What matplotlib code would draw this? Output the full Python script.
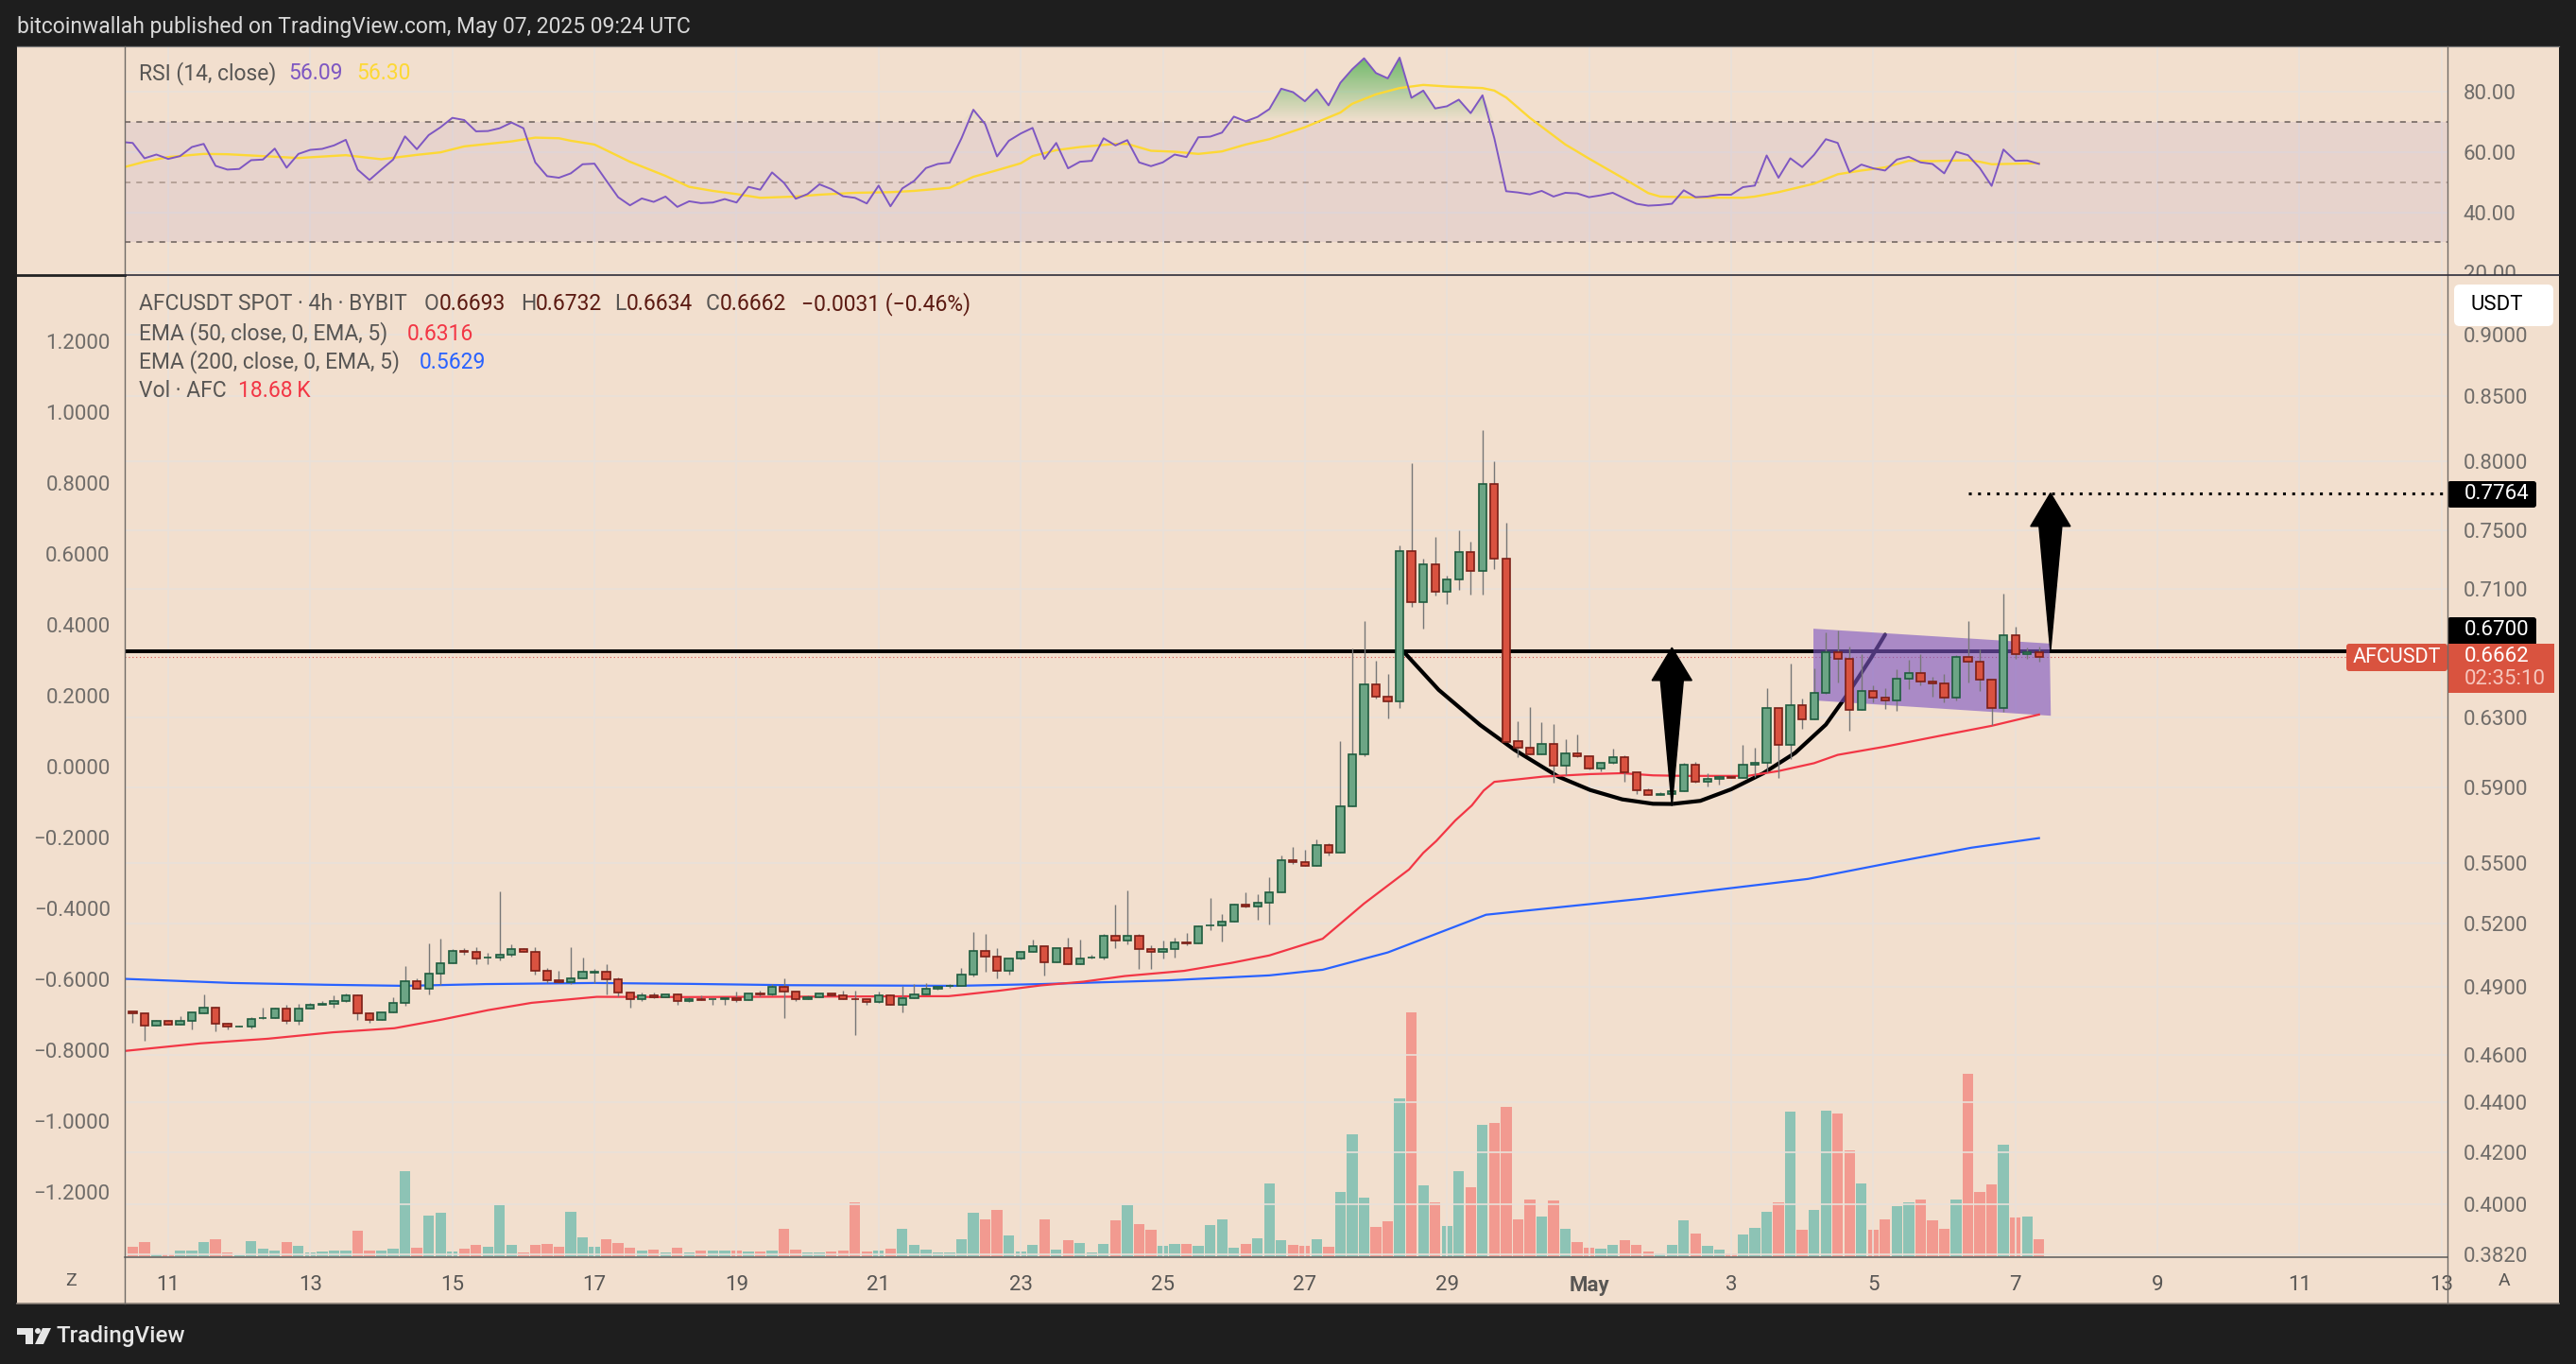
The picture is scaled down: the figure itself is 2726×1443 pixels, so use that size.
import numpy as np
import pandas as pd
import matplotlib
matplotlib.use('Agg')
import matplotlib.pyplot as plt
import matplotlib.dates as mdates
from matplotlib.colors import LinearSegmentedColormap
from matplotlib.patches import Polygon, Rectangle, FancyBboxPatch
from matplotlib.ticker import FixedLocator, FixedFormatter

plt.rcParams['font.family'] = ['Roboto', 'DejaVu Sans']

W, H = 2726, 1443

# 4h candles, AFCUSDT
opens = [
    .4789,.4780,.4726,.4747,.4730,.4747,.4783,.4805,.4735,.4721,
    .4722,.4758,.4760,.4801,.4747,.4801,.4821,.4823,.4835,.4861,
    .4780,.4751,.4785,.4827,.4926,.4891,.4960,.5009,.5067,.5062,
    .5034,.5036,.5049,.5076,.5062,.4974,.4930,.4921,.4938,.4967,
    .4969,.4934,.4874,.4844,.4861,.4853,.4865,.4835,.4844,.4844,
    .4844,.4848,.4840,.4870,.4865,.4900,.4878,.4844,.4853,.4870,
    .4861,.4845,.4844,.4830,.4861,.4818,.4848,.4865,.4891,.4904,
    .4904,.4956,.5067,.5040,.4974,.5031,.5062,.5089,.5014,.5080,
    .5005,.5034,.5036,.5139,.5116,.5139,.5076,.5062,.5076,.5107,
    .5102,.5187,.5189,.5207,.5291,.5281,.5300,.5351,.5514,.5504,
    .5483,.5592,.5553,.5798,.6086,.6495,.6422,.6392,.7354,.7013,
    .7265,.7081,.7163,.7348,.7220,.7829,.7303,.6161,.6123,.6086,
    .6144,.6022,.6091,.6075,.6006,.6038,.6070,.5984,.5885,.5859,
    .5864,.5880,.6027,.5932,.5948,.5960,.5953,.6027,.6037,.6354,
    .6139,.6371,.6287,.6444,.6693,.6652,.6343,.6456,.6416,.6399,
    .6530,.6565,.6513,.6502,.6416,.6664,.6634,.6525,.6354,.6800,
    .6682,.6693]
closes = [
    .4779,.4726,.4747,.4730,.4747,.4785,.4805,.4735,.4722,.4723,
    .4755,.4760,.4801,.4747,.4801,.4818,.4823,.4835,.4861,.4780,
    .4751,.4785,.4827,.4926,.4891,.4960,.5009,.5067,.5062,.5031,
    .5036,.5049,.5076,.5062,.4974,.4930,.4921,.4938,.4969,.4969,
    .4934,.4874,.4844,.4861,.4853,.4865,.4835,.4844,.4840,.4845,
    .4848,.4840,.4870,.4865,.4900,.4878,.4844,.4853,.4870,.4861,
    .4844,.4844,.4831,.4861,.4818,.4848,.4865,.4891,.4900,.4906,
    .4956,.5067,.5040,.4974,.5031,.5062,.5089,.5014,.5080,.5005,
    .5031,.5036,.5139,.5116,.5139,.5076,.5062,.5076,.5107,.5101,
    .5185,.5189,.5207,.5291,.5281,.5300,.5351,.5514,.5504,.5483,
    .5592,.5553,.5798,.6086,.6495,.6422,.6392,.7354,.7013,.7265,
    .7081,.7163,.7348,.7220,.7829,.7303,.6159,.6123,.6086,.6144,
    .6022,.6091,.6075,.6006,.6038,.6070,.5984,.5885,.5859,.5864,
    .5880,.6027,.5932,.5948,.5958,.5956,.6027,.6037,.6354,.6139,
    .6371,.6287,.6444,.6693,.6652,.6343,.6456,.6416,.6399,.6530,
    .6565,.6513,.6502,.6416,.6664,.6634,.6525,.6354,.6800,.6682,
    .6693,.6662]
highs = [
    .4789,.4780,.4753,.4753,.4769,.4785,.4867,.4811,.4740,.4728,
    .4765,.4808,.4808,.4820,.4824,.4828,.4837,.4863,.4871,.4865,
    .4786,.4785,.4854,.4997,.4940,.5104,.5127,.5077,.5082,.5086,
    .5059,.5358,.5100,.5082,.5086,.4988,.4975,.5086,.5037,.4984,
    .5006,.4943,.4874,.4876,.4876,.4865,.4870,.4851,.4863,.4845,
    .4848,.4877,.4870,.4884,.4913,.4940,.4878,.4861,.4870,.4870,
    .4884,.4884,.4844,.4880,.4867,.4904,.4914,.4918,.4900,.4913,
    .4988,.5159,.5150,.5082,.5031,.5062,.5122,.5089,.5080,.5131,
    .5122,.5049,.5150,.5292,.5362,.5150,.5095,.5118,.5131,.5154,
    .5191,.5325,.5245,.5297,.5353,.5344,.5429,.5540,.5584,.5570,
    .5623,.5604,.6163,.6719,.6893,.6643,.6561,.7395,.7985,.7303,
    .7455,.7190,.7501,.7422,.8235,.7999,.7553,.6279,.6362,.6273,
    .6262,.6174,.6201,.6075,.6038,.6120,.6080,.5984,.5896,.5876,
    .5890,.6038,.6045,.5981,.5968,.5968,.6139,.6125,.6473,.6354,
    .6623,.6410,.6594,.6818,.6830,.6729,.6682,.6488,.6473,.6588,
    .6646,.6682,.6542,.6559,.6675,.6894,.6711,.6525,.7068,.6854,
    .6723,.6732]
lows = [
    .4741,.4662,.4726,.4730,.4730,.4712,.4783,.4700,.4712,.4721,
    .4716,.4754,.4760,.4733,.4729,.4801,.4821,.4808,.4830,.4750,
    .4741,.4751,.4785,.4813,.4891,.4868,.4908,.5009,.5048,.5003,
    .5003,.5021,.5039,.5062,.4959,.4918,.4918,.4913,.4938,.4916,
    .4864,.4858,.4807,.4838,.4848,.4853,.4817,.4830,.4840,.4821,
    .4821,.4830,.4840,.4858,.4861,.4762,.4834,.4844,.4853,.4858,
    .4844,.4687,.4817,.4827,.4818,.4787,.4848,.4865,.4887,.4894,
    .4904,.4950,.4972,.4941,.4959,.5027,.5062,.4954,.5014,.5005,
    .5005,.5031,.5025,.5079,.5097,.4985,.4981,.5030,.5034,.5094,
    .5102,.5165,.5110,.5207,.5277,.5215,.5192,.5351,.5493,.5483,
    .5483,.5537,.5553,.5798,.6077,.6413,.6291,.6357,.6981,.6845,
    .7054,.6999,.7095,.7061,.7065,.7231,.6159,.6071,.6086,.6086,
    .5930,.5970,.6068,.5999,.5993,.6031,.5935,.5863,.5858,.5858,
    .5801,.5880,.5927,.5909,.5915,.5953,.5953,.5958,.5984,.5956,
    .6058,.6230,.6287,.6437,.6505,.6224,.6343,.6386,.6347,.6336,
    .6467,.6488,.6420,.6386,.6397,.6505,.6454,.6253,.6330,.6652,
    .6652,.6634]
# volume in thousands of AFC
volumes = [
    10.4,15.6,2.1,2.1,6.2,6.2,15.6,18.7,4.2,1.0,
    16.6,8.3,6.2,15.6,11.4,4.2,5.2,6.2,6.2,28.1,
    6.2,6.2,8.3,93.6,9.4,44.7,47.8,5.2,8.3,12.5,
    10.4,56.2,12.5,4.2,12.5,13.5,10.4,48.9,20.8,10.4,
    18.7,14.6,9.4,6.2,7.3,4.2,9.4,4.2,6.2,6.2,
    6.2,6.2,5.2,5.2,6.2,30.2,7.3,4.2,4.2,5.2,
    6.2,59.3,5.2,6.2,8.3,30.2,12.5,7.3,4.2,4.2,
    18.7,47.8,40.6,51.0,22.9,5.2,12.5,40.6,7.3,17.7,
    14.6,4.2,13.5,39.5,56.2,35.4,29.1,11.4,13.5,13.5,
    11.4,34.3,40.6,9.4,13.5,19.8,80.1,17.7,12.5,11.4,
    18.7,10.4,70.7,134.2,64.5,32.2,38.5,173.7,268.3,78.0,
    59.3,33.3,93.6,75.9,144.6,146.6,164.3,40.6,62.4,43.7,
    61.4,30.2,15.6,9.4,8.3,12.5,17.7,12.5,5.2,3.1,
    12.5,39.5,25.0,11.4,7.3,3.1,23.9,31.2,48.9,59.3,
    159.1,29.1,51.0,160.2,157.0,116.5,80.1,29.1,40.6,55.1,
    59.3,62.4,39.5,30.2,62.4,200.7,70.7,79.0,122.7,42.6,
    43.7,18.68]
# RSI per candle, rsi_before is the candle cut off by the left edge
rsi_before = 63.4
rsi = [
    63.05,57.94,59.19,57.73,58.67,61.69,62.74,55.43,54.18,54.39,
    57.31,57.52,61.17,54.81,59.40,60.75,61.07,62.22,64.09,54.18,
    50.74,54.18,57.52,65.24,60.96,65.66,68.27,71.40,70.67,66.91,
    67.01,67.95,69.83,67.95,56.58,52.00,51.47,52.93,55.96,56.16,
    50.53,45.00,42.29,44.58,43.44,45.21,41.77,43.64,43.02,43.23,
    44.37,43.23,48.44,47.50,53.24,49.80,44.48,46.04,49.28,47.71,
    45.31,44.79,42.91,48.86,41.97,47.92,50.43,54.70,56.06,56.48,
    64.61,74.11,69.31,58.56,63.78,66.18,68.06,57.73,63.05,54.60,
    56.79,57.10,64.61,62.22,63.99,56.58,55.33,56.58,59.19,58.35,
    64.93,65.14,66.49,71.81,70.25,71.71,74.32,81.10,79.95,76.93,
    80.89,75.57,83.08,87.57,91.22,86.32,84.54,91.43,78.07,80.47,
    74.53,75.26,77.45,72.96,78.91,64.61,46.98,46.57,45.94,47.09,
    45.21,46.46,46.25,45.00,45.63,46.46,44.58,42.81,42.18,42.39,
    42.81,47.30,45.00,45.21,45.83,45.83,48.34,48.86,58.88,51.47,
    57.94,55.02,59.08,64.30,63.05,53.35,55.85,54.60,53.87,57.52,
    58.46,56.58,56.06,52.93,60.13,58.98,54.70,48.76,60.86,57.10,
    57.21,56.09]
# moving averages read at candle positions
rsi_ma_at = [-1,1,3,6,8,11,14,18,21,24,26,28,32,34,36,37,39,42,45,47,49,51,53,56,58,61,64,66,69,71,
             73,75,76,78,80,83,84,86,88,90,92,94,96,99,102,103,105,107,109,111,114,115,116,118,121,123,
             126,128,129,132,136,137,139,142,144,146,148,150,152,155,156,157,161]
rsi_ma = [54.7,56.79,58.35,59.4,59.29,58.67,58.04,58.98,57.62,59.08,59.92,61.9,63.57,64.82,64.61,63.78,
          62.53,56.79,52.09,48.44,47.09,46.04,44.79,45.21,45.83,46.46,46.67,47.09,48.13,51.78,
          53.97,56.27,58.67,60.65,61.69,62.74,62.74,60.44,60.13,59.4,60.23,62.53,64.3,68.27,73.17,
          76.09,79.22,81.31,82.35,81.83,81.31,80.47,78.18,71.4,62.53,57.83,51.05,46.36,45.21,44.9,
          44.79,45.21,46.67,49.49,52.62,53.87,54.91,57.1,57.0,57.31,56.79,55.96,56.3]
ema50_at = [-0.7,5.7,11.4,16.9,22.1,26.1,30,33.7,39.2,47,68.9,70,73.2,76.7,80.3,83.8,88.8,92.8,96,100.5,104,
            107.8,109,110.1,111.7,113.1,114.1,115,117,119.1,123.1,125.8,128.4,131.1,136.4,139,142,144,148,153,157,161]
ema50 = [.4616,.4649,.4669,.4697,.4715,.4753,.4795,.4828,.4855,.4854,.4858,.4864,.4883,.4907,.4924,.4950,
         .4974,.5011,.5046,.5125,.5296,.5467,.5552,.5614,.5722,.5803,.5884,.5932,.5946,.5961,.5975,.5980,
         .5968,.5965,.5965,.5992,.6036,.6083,.6130,.6197,.6250,.6316]
ema200_at = [-0.7,8.4,16.3,23,29.8,39,47,55.4,69.6,76.7,87.4,96,100.5,106,114.3,127.5,141.5,148.4,155.3,161]
ema200 = [.4937,.4918,.4910,.4905,.4913,.4918,.4914,.4908,.4905,.4913,.4930,.4953,.4979,.5060,.5241,.5320,
          .5419,.5500,.5579,.5629]
# hand drawn objects on the chart
cup_at = [107.4,110.3,113.8,116.7,120.4,123.1,125.8,128.4,130,132.4,135,137.7,140.4,143,144.9,146.8,148]
cup = [.6692,.6463,.6255,.6112,.5961,.5887,.5836,.5812,.5811,.5828,.5891,.5979,.6094,.6257,.6444,.6656,.6804]
flag_at = [141.95,161.9,162,141.95]
flag = [.6842,.6748,.6309,.6400]
price_ticks = [.9,.85,.8,.75,.71,.67,.63,.59,.55,.52,.49,.46,.44,.42,.40,.382]
left_ticks = [1.2,1.0,.8,.6,.4,.2,0,-.2,-.4,-.6,-.8,-1.0,-1.2]
rsi_ticks = [80,60,40,20]
day_ticks = pd.date_range('2025-04-11', '2025-05-13', freq='2D')
day_labels = ['11','13','15','17','19','21','23','25','27','29','May','3','5','7','9','11','13']

TAN = '#f2dfce'
DARK = '#1e1e1e'
GRID = '#e9e1da'
TICK = '#6f6c69'
LEG = '#585654'
UP, UP_E = '#6ca585', '#1f5c3f'
DN, DN_E = '#d95240', '#7c1f17'
VUP, VDN = '#8dc3b5', '#f29a90'
FS = 16.5
TICK_FS = 16

times = pd.date_range('2025-04-10 12:00', periods=len(opens), freq='4h')
t0 = mdates.date2num(times[0])
STEP = 4 / 24


def at(i):
    return t0 + np.asarray(i, dtype=float) * STEP


def box(x0, y0, x1, y1):
    # pixel box (top-left origin) to figure fraction
    return [x0 / W, 1 - y1 / H, (x1 - x0) / W, (y1 - y0) / H]


fig = plt.figure(figsize=(W / 100, H / 100), dpi=100, facecolor=DARK)

back = fig.add_axes([0, 0, 1, 1], zorder=0)
back.set_xlim(0, W)
back.set_ylim(H, 0)
back.axis('off')
back.add_patch(Rectangle((18, 49), 2690, 1330, color=TAN, lw=0))

xlim = (at(-0.67), at(195.5))

# RSI pane
ax_rsi = fig.add_axes(box(132, 49, 2590, 290), zorder=1)
ax_rsi.patch.set_visible(False)
ax_rsi.set_xticks(mdates.date2num(day_ticks))
ax_rsi.set_xticklabels([])
ax_rsi.yaxis.tick_right()
ax_rsi.set_yticks(rsi_ticks)
ax_rsi.set_yticklabels(['%.2f' % v for v in rsi_ticks])
ax_rsi.tick_params(length=0, labelsize=TICK_FS, labelcolor=TICK, pad=12)
ax_rsi.grid(True, color=GRID, lw=1.2, zorder=0)
ax_rsi.set_axisbelow(True)
for s in ax_rsi.spines.values():
    s.set_visible(False)
ax_rsi.axhspan(30, 70, color='#7e57c2', alpha=0.085, lw=0, zorder=1)
ax_rsi.axhline(70, color='#6b5f5a', lw=1.1, ls=(0, (4, 4)), zorder=2)
ax_rsi.axhline(50, color='#a8948a', lw=1.1, ls=(0, (4, 4)), zorder=2)
ax_rsi.axhline(30, color='#6b5f5a', lw=1.1, ls=(0, (4, 4)), zorder=2)
rsi_x = at(np.arange(len(rsi)))
# overbought gradient, clipped to the area under the RSI line
grad = ax_rsi.imshow(np.linspace(0, 1, 64).reshape(-1, 1), extent=(xlim[0], xlim[1], 70, 92), origin='lower',
                     aspect='auto', zorder=1.5,
                     cmap=LinearSegmentedColormap.from_list('ob', [(0.30, 0.69, 0.31, 0.0), (0.30, 0.69, 0.31, 0.8)]))
ob_area = Polygon(np.column_stack([np.r_[rsi_x, rsi_x[-1], rsi_x[0]], np.r_[np.maximum(rsi, 70), 70, 70]]),
                  closed=True, transform=ax_rsi.transData, fc='none', lw=0)
ax_rsi.add_patch(ob_area)
grad.set_clip_path(ob_area)
ax_rsi.set_xlim(xlim)
ax_rsi.set_ylim(19.4, 95.2)
ax_rsi.plot(at(rsi_ma_at), rsi_ma, color='#fdd835', lw=1.7, zorder=3)
ax_rsi.plot(np.r_[at(-1), rsi_x], np.r_[rsi_before, rsi], color='#7e57c2', lw=1.4, zorder=4)

# volume sits under the candles in the main pane
ax_vol = fig.add_axes(box(132, 291, 2590, 1330), zorder=2)
ax_vol.patch.set_visible(False)
ax_vol.set_xlim(xlim)
ax_vol.set_ylim(-1.04, 1039 * 1.04 - 1.04)
ax_vol.axis('off')

# main pane
ax = fig.add_axes(box(132, 291, 2590, 1330), zorder=3)
ax.patch.set_visible(False)
ax.set_yscale('log')
ax.set_xlim(xlim)
ax.set_ylim(0.3809, 0.9513)
ax.yaxis.tick_right()
ax.yaxis.set_major_locator(FixedLocator(price_ticks))
# 0.67 is covered by the black tag
ax.yaxis.set_major_formatter(FixedFormatter(['' if p == .67 else '%.4f' % p for p in price_ticks]))
ax.yaxis.set_minor_locator(FixedLocator([]))
ax.set_xticks(mdates.date2num(day_ticks))
ax.set_xticklabels(day_labels)
ax.tick_params(length=0, labelsize=TICK_FS, labelcolor=TICK, pad=12)
ax.tick_params(axis='x', pad=14, labelcolor=LEG)
ax.grid(True, color=GRID, lw=1.2, zorder=0)
ax.set_axisbelow(True)
for s in ax.spines.values():
    s.set_visible(False)
for lab in ax.get_xticklabels():
    if lab.get_text() == 'May':
        lab.set_fontweight('bold')

x = at(np.arange(len(opens)))
o, c, hi, lo = map(np.array, (opens, closes, highs, lows))
up = c >= o

ax_vol.bar(x, volumes, width=STEP * 0.9, color=[VUP if u else VDN for u in up], lw=0)

ax.axhline(0.67, color='black', lw=2.9, zorder=2)
ax.plot([at(-0.67), at(188.0)], [0.6662, 0.6662], color='#d9534f', lw=0.8, ls=(0, (1, 2.5)), zorder=2)
ax.plot([at(155.0), xlim[1]], [0.7764, 0.7764], color='black', lw=2.2, ls=(0, (1, 2.2)), zorder=2)
ax.plot(at(cup_at), cup, color='black', lw=3, zorder=2.2, solid_capstyle='round')
ax.add_patch(Polygon(list(zip(at(flag_at), flag)), closed=True, fc='#7e57c2', alpha=0.62, lw=0, zorder=2.5))
ax.plot(at(ema200_at), ema200, color='#2962ff', lw=1.6, zorder=3)
ax.plot(at(ema50_at), ema50, color='#f23645', lw=1.6, zorder=3)

ax.vlines(x, lo, hi, color='#777777', lw=1.0, zorder=4)
ax.bar(x, np.maximum(np.abs(c - o), 0.0002), bottom=np.minimum(o, c), width=STEP * 0.66,
       color=[UP if u else DN for u in up], edgecolor=[UP_E if u else DN_E for u in up],
       lw=1.2, zorder=4.5)

# the two black arrows: tip, head base and tail prices
for mid, tip, neck, tail in [(130, .6722, .6520, .5801), (161.97, .7764, .7527, .67)]:
    ax.add_patch(Polygon([(at(mid), tip), (at(mid + 1.68), neck), (at(mid + 0.96), neck),
                          (at(mid), tail), (at(mid - 0.96), neck), (at(mid - 1.68), neck)],
                         closed=True, fc='black', ec='black', lw=1, zorder=6))

# left scale, belongs to the drawings
ax_left = fig.add_axes(box(132, 291, 2590, 1330), zorder=3.5)
ax_left.patch.set_visible(False)
ax_left.set_xticks([])
ax_left.set_ylim(-1.3826, 1.3866)
ax_left.set_yticks(left_ticks)
ax_left.set_yticklabels([('%.4f' % v).replace('-', '\u2212') for v in left_ticks])
ax_left.tick_params(length=0, labelsize=TICK_FS, labelcolor=TICK, pad=11)
for s in ax_left.spines.values():
    s.set_visible(False)

# frame, labels and tags on top, all in pixels
top = fig.add_axes([0, 0, 1, 1], zorder=5)
top.set_xlim(0, W)
top.set_ylim(H, 0)
top.axis('off')
top.patch.set_visible(False)

top.add_patch(Rectangle((2591, 291), 116, 9, color=TAN, lw=0))
top.plot([18, 2708], [49, 49], color='#777777', lw=0.9)
top.plot([18, 2708], [1379, 1379], color='#8f857c', lw=1.2)
top.plot([132, 132], [49, 1379], color='#6f6a66', lw=1)
top.plot([2590, 2590], [49, 1379], color='#6f6a66', lw=1)
top.plot([18, 132], [291, 291], color='#222222', lw=2)
top.plot([132, 2708], [290.5, 290.5], color='#2d2d3a', lw=1.2)
top.plot([132, 2590], [1330, 1330], color='#5a5a5a', lw=1.1)

top.text(18, 28, 'bitcoinwallah published on TradingView.com, May 07, 2025 09:24 UTC', color='#d8d8d8',
         fontsize=FS, va='center')


def row(y, parts):
    for px, txt, col in parts:
        top.text(px, y, txt, color=col, fontsize=FS, va='center')


row(78, [(147, 'RSI (14, close)', LEG), (305, '56.09', '#7e57c2'), (377, '56.30', '#fdd835')])
BR = '#5b1a12'
row(322, [(147, 'AFCUSDT SPOT \u00b7 4h \u00b7 BYBIT', LEG), (449, 'O', LEG), (465, '0.6693', BR),
          (551, 'H', LEG), (567, '0.6732', BR), (650, 'L', LEG), (663, '0.6634', BR),
          (747, 'C', LEG), (762, '0.6662', BR), (848, '\u22120.0031 (\u22120.46%)', BR)])
row(353, [(147, 'EMA (50, close, 0, EMA, 5)', LEG), (431, '0.6316', '#f23645')])
row(383, [(147, 'EMA (200, close, 0, EMA, 5)', LEG), (444, '0.5629', '#2962ff')])
row(414, [(147, 'Vol \u00b7 AFC', LEG), (252, '18.68\u2009K', '#f23645')])

top.add_patch(FancyBboxPatch((2599, 303), 101, 40, boxstyle='round,pad=2,rounding_size=6', fc='white', ec='white', lw=0))
top.text(2614, 322, 'USDT', color='black', fontsize=TICK_FS, va='center')
top.add_patch(FancyBboxPatch((2590, 509), 94, 28, boxstyle='round,pad=0,rounding_size=3', fc='black', lw=0))
top.text(2608, 523, '0.7764', color='white', fontsize=TICK_FS, va='center')
top.add_patch(FancyBboxPatch((2590, 653), 94, 30, boxstyle='round,pad=0,rounding_size=3', fc='black', lw=0))
top.text(2608, 667, '0.6700', color='white', fontsize=TICK_FS, va='center')
top.add_patch(Rectangle((2590, 681), 113, 52, fc='#d9533f', lw=0))
top.text(2608, 695, '0.6662', color='white', fontsize=TICK_FS, va='center')
top.text(2608, 718, '02:35:10', color='#f6c6bd', fontsize=TICK_FS, va='center')
top.add_patch(FancyBboxPatch((2483, 681), 107, 29, boxstyle='round,pad=0,rounding_size=3', fc='#d9533f', lw=0))
top.text(2490, 695.5, 'AFCUSDT', color='white', fontsize=15.5, va='center')

top.text(75, 1355, 'Z', color=LEG, fontsize=14, ha='center', va='center')
top.text(2650, 1355, 'A', color=LEG, fontsize=14, ha='center', va='center')

# TradingView logo and name
top.add_patch(Polygon([(18, 1405), (35, 1405), (35, 1422), (27, 1422), (27, 1412), (18, 1412)], fc='#e6e6e6', lw=0))
top.add_patch(plt.Circle((40, 1408), 3, fc='#e6e6e6', lw=0))
top.add_patch(Polygon([(45, 1405), (54, 1405), (46, 1422), (37, 1422)], fc='#e6e6e6', lw=0))
top.text(59, 1413.5, 'TradingView', color='#e6e6e6', fontsize=17.5, va='center', fontweight='medium')

fig.savefig('out.png', dpi=100, facecolor=DARK)
